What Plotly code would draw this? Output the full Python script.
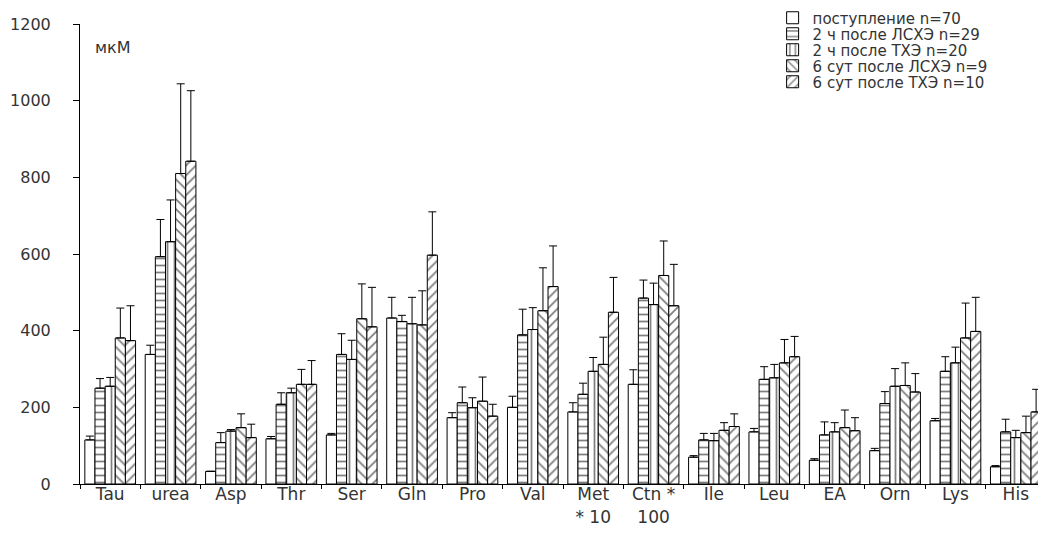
import plotly.graph_objects as go

categories = ["Tau", "urea", "Asp", "Thr", "Ser", "Gln", "Pro", "Val",
              "Met<br>* 10", "Ctn *<br>100", "Ile", "Leu", "EA", "Orn", "Lys", "His"]

series_names = ["поступление n=70", "2 ч после ЛСХЭ n=29", "2 ч после ТХЭ n=20",
                "6 сут после ЛСХЭ n=9", "6 сут после ТХЭ n=10"]

adm = [115, 338, 33, 118, 128, 433, 173, 200, 188, 260, 70, 136, 62, 87, 165, 45]
adm_sd = [10, 24, 0, 6, 4, 54, 13, 29, 24, 38, 4, 9, 4, 6, 6, 3]

lap2h = [250, 593, 108, 208, 338, 424, 212, 389, 234, 485, 115, 273, 128, 210, 294, 136]
lap2h_sd = [25, 97, 26, 30, 54, 16, 41, 67, 29, 47, 17, 33, 34, 31, 38, 33]

open2h = [255, 632, 138, 238, 325, 418, 199, 403, 294, 468, 113, 277, 136, 255, 316, 121]
open2h_sd = [23, 109, 4, 12, 50, 69, 26, 57, 36, 56, 19, 35, 24, 46, 41, 19]

lap6d = [381, 810, 147, 260, 431, 415, 216, 452, 312, 544, 140, 316, 147, 257, 381, 134]
lap6d_sd = [78, 234, 36, 39, 91, 89, 63, 112, 71, 90, 20, 61, 46, 59, 91, 43]

open6d = [374, 842, 121, 260, 410, 597, 177, 515, 448, 465, 150, 332, 139, 240, 398, 188]
open6d_sd = [91, 184, 35, 62, 103, 113, 31, 106, 91, 108, 33, 53, 34, 48, 89, 59]

y_ticks = [0, 200, 400, 600, 800, 1000, 1200]

values = [adm, lap2h, open2h, lap6d, open6d]
sds = [adm_sd, lap2h_sd, open2h_sd, lap6d_sd, open6d_sd]
patterns = ["", "-", "|", "\\", "/"]
legend_ids = ["legend", "legend2", "legend3", "legend4", "legend5"]

PLOT_H = 460                     # plot area height in px
row_px = [-6, 10, 26, 42, 58]    # legend row centres relative to plot top
legend_y = [1 - r / PLOT_H for r in row_px]

FONT = "DejaVu Sans, Liberation Sans, Arial, sans-serif"
TXT = "#333333"

fig = go.Figure()
for name, v, e, p, lg in zip(series_names, values, sds, patterns, legend_ids):
    fig.add_trace(go.Bar(
        name=name, x=categories, y=v, legend=lg,
        marker=dict(color="white", line=dict(color="black", width=1),
                    pattern=dict(shape=p, fgcolor="black", bgcolor="white",
                                 size=7, solidity=0.25)),
        error_y=dict(type="data", symmetric=False, array=e,
                     arrayminus=[0] * len(e), color="black",
                     thickness=1, width=4),
    ))

legend_common = dict(x=0.717, xanchor="left", yanchor="middle",
                     bgcolor="rgba(0,0,0,0)", font=dict(size=15, color=TXT),
                     itemwidth=30)

layout_legends = {}
for lg, ly in zip(legend_ids, legend_y):
    layout_legends[lg] = dict(legend_common, y=ly)

fig.update_layout(
    width=1046, height=556,
    margin=dict(l=72, r=8, t=16, b=80, autoexpand=False),
    paper_bgcolor="white", plot_bgcolor="white",
    barmode="group", bargap=0.16, bargroupgap=0,
    font=dict(family=FONT, size=16, color=TXT),
    showlegend=True,
    xaxis=dict(showline=True, linecolor="black", linewidth=1,
               ticks="outside", tickson="boundaries", ticklen=4,
               tickcolor="black", range=[-0.5, 15.5],
               tickfont=dict(size=17, color=TXT), tickangle=0,
               ticklabelstandoff=-5,
               showgrid=False, zeroline=False),
    yaxis=dict(showline=True, linecolor="black", linewidth=1,
               ticks="outside", ticklen=6, tickcolor="black",
               range=[0, y_ticks[-1]], tickvals=y_ticks,
               tickfont=dict(size=16, color=TXT), ticklabelstandoff=19,
               showgrid=False, zeroline=False),
    annotations=[dict(text="мкМ", xref="paper", yref="y", x=0.013, y=1140,
                      xanchor="left", yanchor="middle", showarrow=False,
                      font=dict(size=16, color=TXT))],
    **layout_legends,
)

fig.write_html("out.html")
